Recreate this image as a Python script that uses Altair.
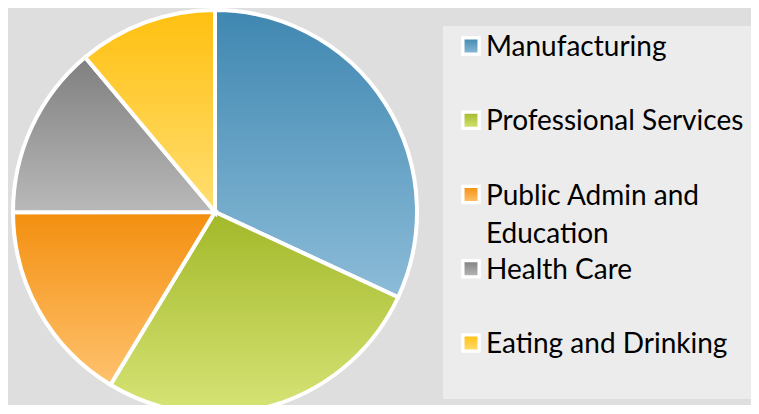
import math
import altair as alt
import pandas as pd

# ---- data ----
categories = ["Manufacturing", "Professional Services", "Public Admin and Education",
              "Health Care", "Eating and Drinking"]
values = [31.9, 26.7, 16.3, 13.9, 11.1]
legend_labels = ["Manufacturing", "Professional Services", "Public Admin and\nEducation",
                 "Health Care", "Eating and Drinking"]

# ---- styles ----
grad_top = ["#3f87b1", "#a3b829", "#f38f0f", "#7f7f7f", "#ffc010"]
grad_bottom = ["#8cbcd8", "#d6e476", "#ffc26e", "#b9b9b9", "#ffde72"]

df = pd.DataFrame({"category": categories, "value": values,
                   "label": legend_labels, "idx": list(range(len(categories)))})
total = sum(values)

W, H = 743, 397
CX, CY, R = 207, 204, 202

base = (alt.Chart(df)
        .transform_window(cum="sum(value)", sort=[alt.SortField("idx")], frame=[None, 0])
        .transform_calculate(start="datum.cum - datum.value"))

theta_scale = alt.Scale(domain=[0, total], range=[0, 2 * math.pi])
y_scale = alt.Scale(type="point", domain=categories, range=[38, 335], padding=0)

layers = []

# legend box background
layers.append(alt.Chart(df).mark_rect(fill="#ececec").encode(
    x=alt.value(435), x2=alt.value(W), y=alt.value(18), y2=alt.value(391)))

for i, cat in enumerate(categories):
    grad = alt.Gradient(gradient="linear",
                        stops=[alt.GradientStop(color=grad_top[i], offset=0),
                               alt.GradientStop(color=grad_bottom[i], offset=1)],
                        x1=0, x2=0, y1=0, y2=1)
    sub = base.transform_filter(alt.datum.category == cat)
    layers.append(sub.mark_arc(fill=grad, stroke="white", strokeWidth=4,
                               outerRadius=R, strokeJoin="miter").encode(
        theta=alt.Theta("start:Q", scale=theta_scale),
        theta2="cum:Q",
        x=alt.value(CX), y=alt.value(CY)))
    layers.append(sub.mark_square(fill=grad, stroke="white", strokeWidth=3.3,
                                  size=264, opacity=1).encode(
        x=alt.value(463),
        y=alt.Y("category:N", scale=y_scale, axis=None)))

layers.append(alt.Chart(df).mark_text(
    align="left", baseline="alphabetic", dy=10, font="Lato", fontSize=28,
    lineBreak="\n", lineHeight=38, color="#000000").encode(
    x=alt.value(478),
    y=alt.Y("category:N", scale=y_scale, axis=None),
    text="label:N"))

chart = (alt.layer(*layers)
         .properties(width=W, height=H, autosize=alt.AutoSizeParams(type="none"),
                     padding=0, background="#dedede")
         .configure_view(stroke=None))

chart.save("out.html", embed_options={"renderer": "svg", "actions": False})
